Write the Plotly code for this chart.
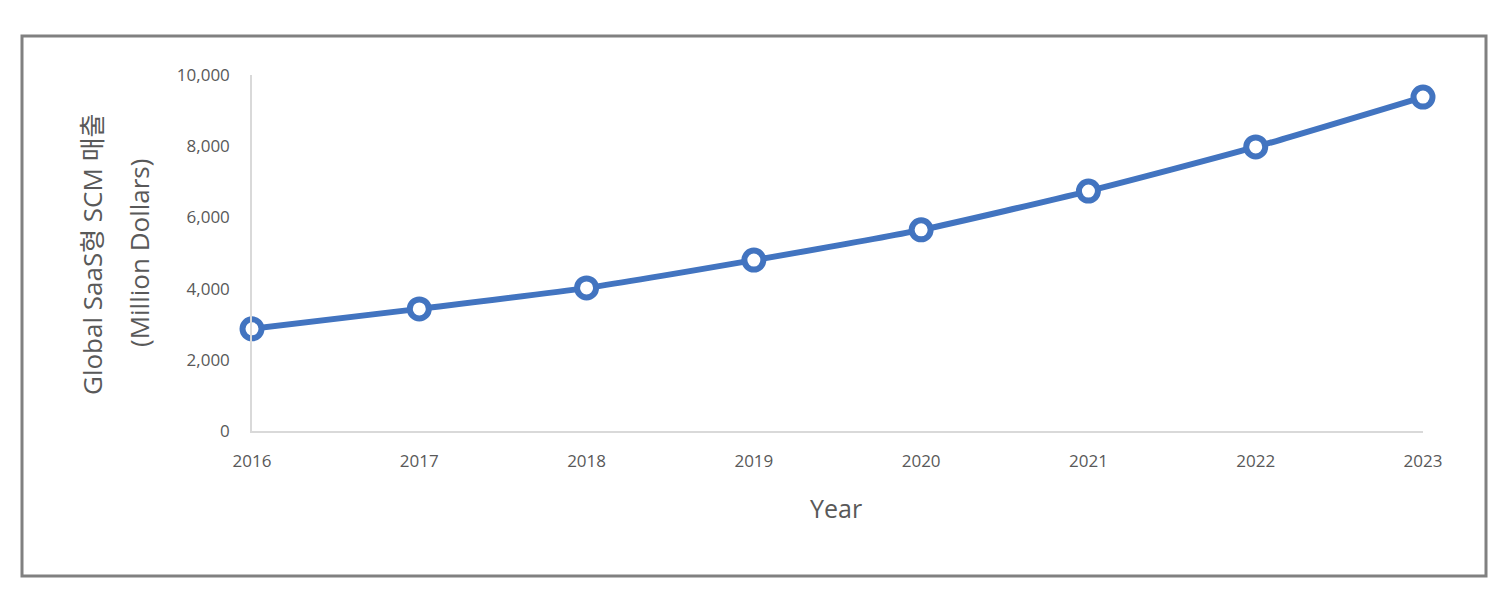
import plotly.graph_objects as go

years = [2016, 2017, 2018, 2019, 2020, 2021, 2022, 2023]
revenue = [2870, 3430, 4020, 4800, 5650, 6740, 7980, 9380]
y_ticks = [0, 2000, 4000, 6000, 8000, 10000]
y_tick_labels = ["0", "2,000", "4,000", "6,000", "8,000", "10,000"]

W, H = 1506, 609
OFF = 8  # page body margin
# plot area in screen pixels: x 252..1423, y 75..431
L, R, T, B = 252 - OFF, 1506 - 1423 + OFF, 75 - OFF, 609 - 431 + OFF
pw, ph = W - L - R, H - T - B

def px_x(x):
    return (x - OFF - L) / pw

def px_y(y):
    return (H - B - (y - OFF)) / ph

blue = "#4274C0"
gray = "#595959"
font_fam = "Open Sans, Noto Sans CJK KR, sans-serif"

fig = go.Figure()
fig.add_trace(go.Scatter(
    x=years, y=revenue, mode="lines+markers",
    line=dict(color=blue, width=6, shape="spline", smoothing=0.6),
    marker=dict(symbol="circle", size=19, color="white", line=dict(color=blue, width=6)),
    cliponaxis=False, showlegend=False,
))

fig.update_layout(
    width=W, height=H,
    margin=dict(l=L, r=R, t=T, b=B, autoexpand=False),
    paper_bgcolor="white", plot_bgcolor="white",
    font=dict(family=font_fam, color=gray),
    xaxis=dict(
        range=[2016, 2023], tickvals=years, ticktext=[str(y) for y in years],
        showgrid=False, zeroline=False, showline=True, linecolor="#D9D9D9", linewidth=1.5,
        ticks="outside", ticklen=14, tickcolor="rgba(0,0,0,0)",
        tickfont=dict(size=17, color=gray),
    ),
    yaxis=dict(
        range=[0, 10000], tickvals=y_ticks, ticktext=y_tick_labels,
        showgrid=False, zeroline=False, showline=True, linecolor="#D9D9D9", linewidth=1.5,
        ticks="outside", ticklen=17, tickcolor="rgba(0,0,0,0)",
        tickfont=dict(size=17, color=gray),
    ),
    shapes=[dict(
        type="rect", xref="paper", yref="paper",
        x0=px_x(22), x1=px_x(1486), y0=px_y(576), y1=px_y(36),
        line=dict(color="#808080", width=3), fillcolor="rgba(0,0,0,0)",
    )],
    annotations=[
        dict(
            text="Global SaaS형 SCM 매출",
            xref="paper", yref="paper", x=px_x(92), y=px_y(255),
            xanchor="center", yanchor="middle", textangle=-90, showarrow=False,
            font=dict(size=26, color=gray, family=font_fam),
        ),
        dict(
            text="(Million Dollars)",
            xref="paper", yref="paper", x=px_x(139), y=px_y(253),
            xanchor="center", yanchor="middle", textangle=-90, showarrow=False,
            font=dict(size=26, color=gray, family=font_fam),
        ),
        dict(
            text="Year", xref="paper", yref="paper", x=px_x(836), y=px_y(508),
            xanchor="center", yanchor="middle", showarrow=False,
            font=dict(size=25, color=gray, family=font_fam),
        ),
    ],
)

fig.write_html("out.html")
